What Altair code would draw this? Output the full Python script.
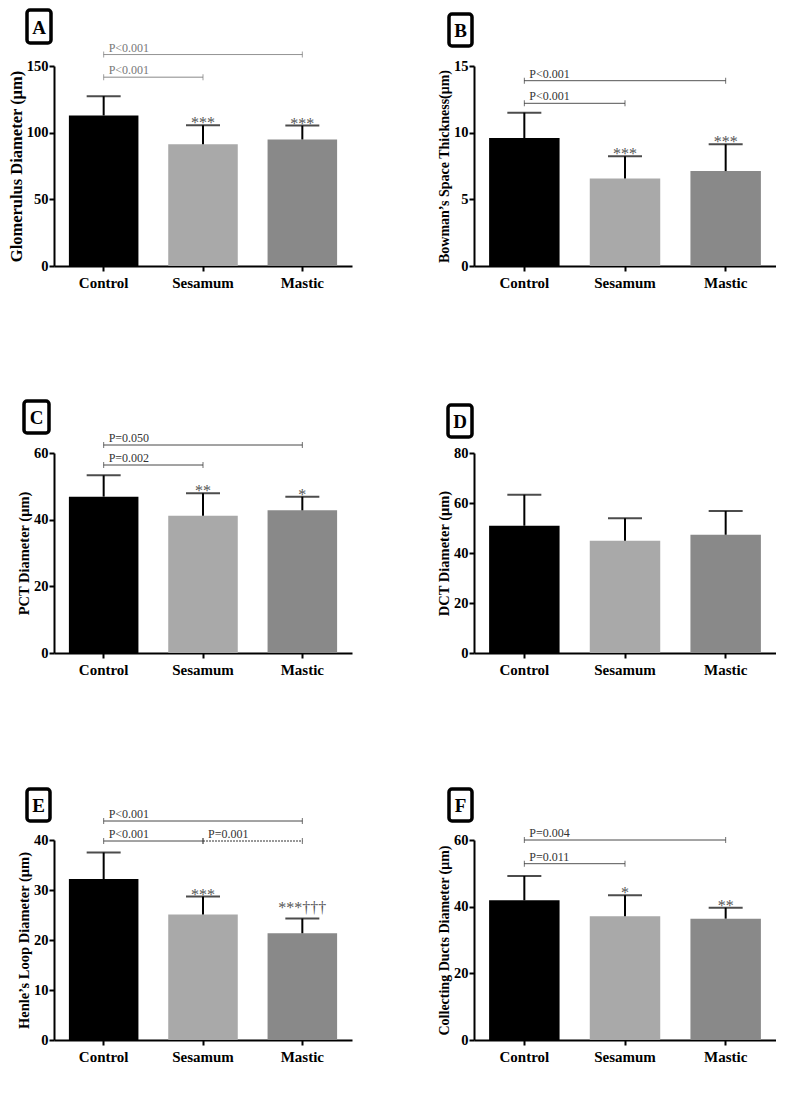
import altair as alt
import pandas as pd

groups = ["Control", "Sesamum", "Mastic"]
bar_colors = ["#000000", "#a9a9a9", "#898989"]
FONT = "Liberation Serif"

# Panel A - Glomerulus diameter
a_mean = [112.9, 91.4, 94.9]
a_sd = [14.5, 14.2, 10.4]
a_stars = ["", "***", "***"]
a_brackets = [("Control", "Mastic", 158.6, "P<0.001", "solid"),
              ("Control", "Sesamum", 141.6, "P<0.001", "solid")]

# Panel B - Bowman's space thickness
b_mean = [9.6, 6.57, 7.12]
b_sd = [1.9, 1.66, 2.01]
b_stars = ["", "***", "***"]
b_brackets = [("Control", "Mastic", 13.9, "P<0.001", "solid"),
              ("Control", "Sesamum", 12.2, "P<0.001", "solid")]

# Panel C - PCT diameter
c_mean = [46.9, 41.2, 42.8]
c_sd = [6.4, 6.7, 4.1]
c_stars = ["", "**", "*"]
c_brackets = [("Control", "Mastic", 62.4, "P=0.050", "solid"),
              ("Control", "Sesamum", 56.4, "P=0.002", "solid")]

# Panel D - DCT diameter
d_mean = [50.9, 44.9, 47.3]
d_sd = [12.4, 9.0, 9.5]
d_stars = ["", "", ""]
d_brackets = []

# Panel E - Henle's loop diameter
e_mean = [32.2, 25.1, 21.35]
e_sd = [5.3, 3.6, 2.95]
e_stars = ["", "***", "***†††"]
e_brackets = [("Control", "Mastic", 43.8, "P<0.001", "solid"),
              ("Control", "Sesamum", 39.8, "P<0.001", "solid"),
              ("Sesamum", "Mastic", 39.8, "P=0.001", "dot")]

# Panel F - Collecting ducts diameter
f_mean = [41.9, 37.1, 36.4]
f_sd = [7.3, 6.3, 3.3]
f_stars = ["", "*", "**"]
f_brackets = [("Control", "Mastic", 60.0, "P=0.004", "solid"),
              ("Control", "Sesamum", 52.9, "P=0.011", "solid")]


def panel(letter, ytitle, tsize, means, sds, ymax, ystep, stars, brackets,
          width, box, bcolor):
    df = pd.DataFrame({
        "group": groups,
        "mean": means,
        "upper": [m + s for m, s in zip(means, sds)],
        "stars": [s if "†" not in s else "" for s in stars],
        "stars_hi": [s if "†" in s else "" for s in stars],
    })
    xscale = alt.Scale(domain=groups, paddingInner=0.3, paddingOuter=0.15)
    xaxis = alt.Axis(title=None, labelAngle=0, labelFontSize=15, labelPadding=4)
    yscale = alt.Scale(domain=[0, ymax], nice=False, zero=True)
    yaxis = alt.Axis(title=ytitle, titleFontSize=tsize, titlePadding=2,
                     values=list(range(0, ymax + 1, ystep)), labelFontSize=14.5,
                     labelPadding=1)

    def X(field="group"):
        return alt.X(f"{field}:N", sort=groups, scale=xscale, axis=xaxis)

    def Y(field):
        return alt.Y(f"{field}:Q", scale=yscale, axis=yaxis, title=ytitle)

    base = alt.Chart(df)
    bars = base.mark_bar().encode(
        x=X(), y=Y("mean"),
        color=alt.Color("group:N", scale=alt.Scale(domain=groups, range=bar_colors), legend=None),
    )
    err = base.mark_rule(color="black", strokeWidth=2).encode(
        x=X(), y=Y("mean"), y2="upper:Q")
    caps = base.mark_tick(color="black", thickness=2, size=34).encode(
        x=X(), y=Y("upper"))
    layers = [bars, err, caps]
    if any(stars):
        st = base.mark_text(font=FONT, fontSize=16, color="#555555",
                            baseline="alphabetic", dy=3).encode(
            x=X(), y=Y("upper"), text="stars:N")
        st_hi = base.mark_text(font=FONT, fontSize=16, color="#555555",
                               baseline="alphabetic", dy=-6).encode(
            x=X(), y=Y("upper"), text="stars_hi:N")
        layers += [st, st_hi]

    if brackets:
        bdf = pd.DataFrame(brackets, columns=["x1", "x2", "y", "label", "dash"])
        ends = pd.DataFrame(
            [(b[0], b[2]) for b in brackets] + [(b[1], b[2]) for b in brackets],
            columns=["x1", "y"])
        lines = alt.Chart(bdf).mark_rule(color=bcolor, strokeWidth=1).encode(
            x=X("x1"), x2="x2:N", y=Y("y"),
            strokeDash=alt.StrokeDash("dash:N", scale=alt.Scale(domain=["solid", "dot"], range=[[1, 0], [2, 1]]), legend=None),
        )
        ticks = alt.Chart(ends).mark_tick(color=bcolor, orient="vertical", size=6, thickness=1).encode(
            x=X("x1"), y=Y("y"))
        labels = alt.Chart(bdf).mark_text(font=FONT, fontSize=12, color=bcolor, align="left",
                                          baseline="bottom", dx=5, dy=0).encode(
            x=X("x1"), y=Y("y"), text="label:N")
        layers += [lines, ticks, labels]

    ldf = pd.DataFrame({"letter": [letter]})
    x0, x1, y0, y1 = box
    rect = alt.Chart(ldf).mark_rect(fill="white", stroke="black", strokeWidth=3.5, cornerRadius=3).encode(
        x=alt.value(x0), x2=alt.value(x1), y=alt.value(y0), y2=alt.value(y1))
    ltxt = alt.Chart(ldf).mark_text(font=FONT, fontSize=19, fontWeight="bold", color="black",
                                    baseline="middle", align="center", dy=1).encode(
        x=alt.value((x0 + x1) / 2), y=alt.value((y0 + y1) / 2), text="letter:N")
    layers += [rect, ltxt]

    return alt.layer(*layers).properties(width=width, height=200)


pA = panel("A", "Glomerulus Diameter (μm)", 16.5, a_mean, a_sd, 150, 50, a_stars, a_brackets,
           298, (-27, -3, -56, -23), "#777777")
pB = panel("B", "Bowman’s Space Thickness(μm)", 14, b_mean, b_sd, 15, 5, b_stars, b_brackets,
           302, (-25, -2, -52, -20), "#333333")
pC = panel("C", "PCT Diameter (μm)", 14.5, c_mean, c_sd, 60, 20, c_stars, c_brackets,
           298, (-30, -5, -52, -20), "#333333")
pD = panel("D", "DCT Diameter (μm)", 14.5, d_mean, d_sd, 80, 20, d_stars, d_brackets,
           302, (-26, -2, -48, -16), "#333333")
pE = panel("E", "Henle’s Loop Diameter (μm)", 14.5, e_mean, e_sd, 40, 10, e_stars, e_brackets,
           298, (-27, -4, -51, -19), "#333333")
pF = panel("F", "Collecting Ducts Diameter (μm)", 14, f_mean, f_sd, 60, 20, f_stars, f_brackets,
           302, (-25, -2, -51, -19), "#333333")

rows = [alt.hconcat(p1, p2, spacing=122, bounds="flush")
        for p1, p2 in [(pA, pB), (pC, pD), (pE, pF)]]

chart = alt.vconcat(*rows, spacing=387, bounds="flush").properties(
    padding={"left": 0, "top": 0, "right": 0, "bottom": 0}
).configure_view(stroke=None).configure_axis(
    domainColor="black", domainWidth=2, tickColor="black", tickWidth=2, tickSize=5,
    labelFont=FONT, labelFontWeight="bold", labelColor="black",
    titleFont=FONT, titleFontWeight="bold", titleColor="black", grid=False,
)

chart.save("out.html", embed_options={"renderer": "svg", "actions": False})
